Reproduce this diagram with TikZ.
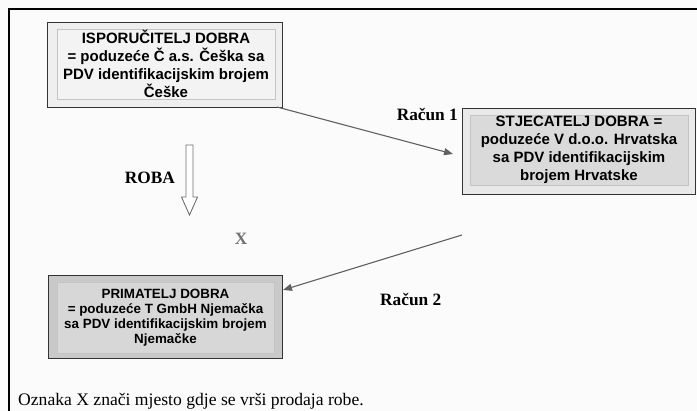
\documentclass[tikz,border=0pt]{standalone}
\usepackage{fontspec}
\setmainfont{Liberation Serif}
\newfontfamily\boxfont{Liberation Sans}
\usetikzlibrary{arrows.meta,calc}
\definecolor{bgc}{HTML}{FBFBFB}
\definecolor{oneout}{HTML}{EFEFEF}
\definecolor{onein}{HTML}{F3F3F3}
\definecolor{twoout}{HTML}{E9E9E9}
\definecolor{twoin}{HTML}{DADADA}
\definecolor{threeout}{HTML}{C9C9C9}
\definecolor{threein}{HTML}{D7D7D7}
\definecolor{linegray}{HTML}{606060}
\definecolor{panelline}{HTML}{C4C4C4}
\begin{document}
\begin{tikzpicture}[x=1pt,y=-1pt,
  outerbox/.style={draw=black!80, line width=1pt, inner sep=0pt, outer sep=0pt},
  innerbox/.style={draw=panelline, line width=0.6pt, inner sep=0pt, outer sep=0pt, align=center, font=\boxfont\bfseries\fontsize{15}{18}\selectfont},
  smallinner/.style={innerbox, font=\boxfont\bfseries\fontsize{13.4}{15}\selectfont},
  lbl/.style={font=\bfseries\fontsize{17.3}{20}\selectfont, inner sep=0pt},
  conn/.style={draw=linegray, line width=1.1pt, -{Triangle[length=9pt,width=7pt]}},
  blockarrow/.style={draw=linegray!90, line width=0.9pt, fill=white}
]
\useasboundingbox (0,0) rectangle (697,411);
\fill[bgc] (0,0) rectangle (697,411);
\draw[line width=1.2pt] (9,411) -- (9,9) -- (697,9);

% box 1
\node[outerbox, fill=oneout, minimum width=235pt, minimum height=85pt] (b1) at (164.5,65.5) {};
\node[innerbox, fill=onein, minimum width=218pt, minimum height=70pt] (b1i) at (166,64)
  {ISPORUČITELJ DOBRA\\= poduzeće Č a.s. Češka sa\\PDV identifikacijskim brojem\\Češke};

% box 2
\node[outerbox, fill=twoout, minimum width=233pt, minimum height=86pt] (b2) at (578.5,152) {};
\node[innerbox, fill=twoin, minimum width=218pt, minimum height=70pt] (b2i) at (579,150)
  {STJECATELJ DOBRA =\\poduzeće V d.o.o. Hrvatska\\sa PDV identifikacijskim\\brojem Hrvatske};

% box 3
\node[outerbox, fill=threeout, minimum width=234pt, minimum height=83pt] (b3) at (165,317.5) {};
\node[smallinner, fill=threein, minimum width=217pt, minimum height=71pt] (b3i) at (165.5,317.5)
  {PRIMATELJ DOBRA\\= poduzeće T GmbH Njemačka\\sa PDV identifikacijskim brojem\\Njemačke};

% labels
\node[lbl, anchor=east] (r1) at (458,115) {Račun 1};
\node[lbl, anchor=west] (r2) at (380,300) {Račun 2};
\node[lbl, anchor=east] (roba) at (175,178) {ROBA};
\node[lbl, text=linegray!90] (x) at (241,239) {X};
\node[font=\fontsize{17.6}{20}\selectfont, inner sep=0pt, anchor=base west] (note) at (18,406)
  {Oznaka X znači mjesto gdje se vrši prodaja robe.};

% connectors
\coordinate (a1s) at ($(b1.south east)+(-5,-1)$);
\coordinate (a1e) at ($(b2.west)+(-9,2)$);
\draw[conn] (a1s) -- (a1e);
\coordinate (a2s) at ($(b2.south west)+(0,40)$);
\coordinate (a2e) at ($(b3.north east)+(1,14)$);
\draw[conn] (a2s) -- (a2e);

% block arrow (ROBA)
\draw[blockarrow] (186,145) -- (193,145) -- (193,197) -- (197.5,197) -- (189.5,215)
  -- (181.5,197) -- (186,197) -- cycle;
\end{tikzpicture}
\end{document}
